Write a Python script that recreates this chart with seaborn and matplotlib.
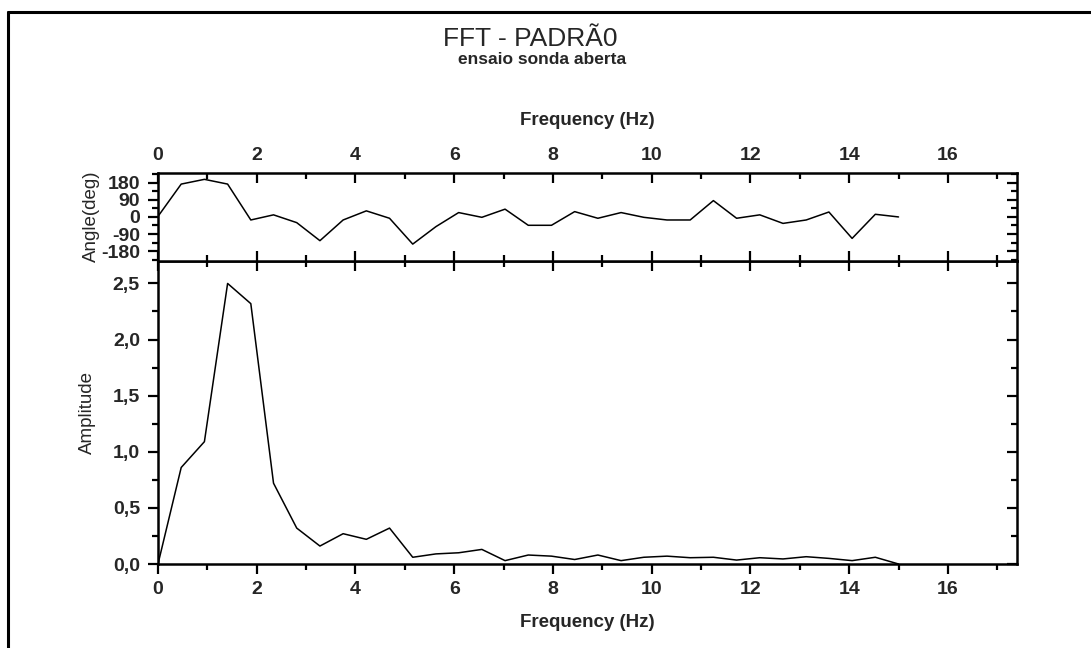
import matplotlib
matplotlib.use("Agg")
import matplotlib.pyplot as plt
import seaborn as sns
import pandas as pd
from matplotlib.ticker import MultipleLocator, FuncFormatter
from matplotlib.lines import Line2D

freq = [0.0, 0.47, 0.94, 1.41, 1.88, 2.34, 2.81, 3.28, 3.75, 4.22, 4.69,
        5.16, 5.63, 6.09, 6.56, 7.03, 7.5, 7.97, 8.44, 8.91, 9.38, 9.84,
        10.31, 10.78, 11.25, 11.72, 12.19, 12.66, 13.13, 13.59, 14.06,
        14.53, 15.0]
amplitude = [0.0, 0.86, 1.09, 2.50, 2.32, 0.72, 0.32, 0.16, 0.27, 0.22, 0.32,
             0.06, 0.09, 0.10, 0.13, 0.03, 0.08, 0.07, 0.04, 0.08, 0.03, 0.06,
             0.07, 0.056, 0.06, 0.035, 0.056, 0.045, 0.065, 0.05, 0.03,
             0.06, 0.0]
angle = [3, 173, 198, 173, -16, 11, -30, -125, -16, 32, -7,
         -143, -51, 23, -2, 41, -44, -44, 28, -7, 23, -2,
         -16, -16, 86, -7, 11, -34, -16, 26, -113,
         14, 0]

title = "FFT - PADRÃ0"
subtitle = "ensaio sonda aberta"
xlabel = "Frequency (Hz)"

df = pd.DataFrame({"freq": freq, "amp": amplitude, "ang": angle})

sns.set_style("ticks")
plt.rcParams["font.family"] = ["Liberation Sans", "DejaVu Sans"]
plt.rcParams["axes.unicode_minus"] = False

W, H = 1091, 648
fig = plt.figure(figsize=(W / 100, H / 100), dpi=100)

left = 158 / W
right = 1017 / W
ax_b = fig.add_axes([left, 1 - 564 / H, right - left, (564 - 261) / H])
ax_t = fig.add_axes([left, 1 - 261 / H, right - left, (261 - 172.5) / H])

sns.lineplot(data=df, x="freq", y="amp", ax=ax_b, color="black", linewidth=1.1)
sns.lineplot(data=df, x="freq", y="ang", ax=ax_t, color="black", linewidth=1.1)

comma = FuncFormatter(lambda v, p: f"{v:.1f}".replace(".", ","))

TS = 14
LS = 13.5

for ax in (ax_b, ax_t):
    ax.set_xlim(0, 17.4)
    ax.xaxis.set_major_locator(MultipleLocator(2))
    ax.xaxis.set_minor_locator(MultipleLocator(1))
    for s in ax.spines.values():
        s.set_visible(True)
        s.set_linewidth(1.8)
        s.set_color("black")
    ax.set_facecolor("white")

# bottom panel
ax_b.set_ylim(0, 2.7)
ax_b.yaxis.set_major_locator(MultipleLocator(0.5))
ax_b.yaxis.set_minor_locator(MultipleLocator(0.25))
ax_b.yaxis.set_major_formatter(comma)
ax_b.tick_params(axis="both", which="both", bottom=True, top=True, left=True,
                 right=True, labelbottom=True, labeltop=False, labelleft=True,
                 labelright=False, color="black", width=1.6)
ax_b.tick_params(axis="x", which="major", direction="out", length=7, labelsize=TS, pad=5)
ax_b.tick_params(axis="x", which="minor", direction="out", length=4)
ax_b.tick_params(axis="y", which="major", direction="out", length=7, labelsize=TS, pad=6)
ax_b.tick_params(axis="y", which="minor", direction="out", length=4)
for t in ax_b.xaxis.get_major_ticks() + ax_b.xaxis.get_minor_ticks():
    t.tick2line.set_marker(3)
for t in ax_b.yaxis.get_major_ticks() + ax_b.yaxis.get_minor_ticks():
    t.tick2line.set_marker(0)
ax_b.set_xlabel(xlabel, fontsize=LS, fontweight="bold", labelpad=12)
ax_b.set_ylabel("Amplitude", fontsize=LS, labelpad=12)

# top panel
ax_t.set_ylim(-232, 234)
ax_t.yaxis.set_minor_locator(MultipleLocator(45))
ax_t.set_yticks([-180, -90, 0, 90, 180])
ax_t.tick_params(axis="both", which="both", bottom=True, top=True, left=True,
                 right=True, labelbottom=False, labeltop=True, labelleft=True,
                 labelright=False, color="black", width=1.6)
ax_t.tick_params(axis="x", which="major", direction="in", length=7, labelsize=TS, pad=6)
ax_t.tick_params(axis="x", which="minor", direction="in", length=4)
ax_t.tick_params(axis="y", which="major", direction="out", length=7, labelsize=TS, pad=6)
ax_t.tick_params(axis="y", which="minor", direction="out", length=4)
for t in ax_t.yaxis.get_major_ticks() + ax_t.yaxis.get_minor_ticks():
    t.tick2line.set_marker(0)
for t in ax_t.xaxis.get_major_ticks() + ax_t.xaxis.get_minor_ticks():
    t.tick1line.set_marker(2)
ax_t.xaxis.set_label_position("top")
ax_t.set_xlabel(xlabel, fontsize=LS, fontweight="bold", labelpad=16)
ax_t.set_ylabel("Angle(deg)", fontsize=LS, labelpad=1)

for ax in (ax_b, ax_t):
    for lab in ax.get_xticklabels() + ax.get_yticklabels():
        lab.set_fontweight("bold")

fig.text(530 / W, 1 - 39 / H, title, ha="center", va="center", fontsize=19)
fig.text(542 / W, 1 - 59 / H, subtitle, ha="center", va="center", fontsize=12.5,
         fontweight="bold")

# outer frame (left and top edges)
fig.add_artist(Line2D([8 / W, 8 / W], [0, 1 - 12 / H], transform=fig.transFigure,
                      color="black", linewidth=2.2))
fig.add_artist(Line2D([8 / W, 1], [1 - 12 / H, 1 - 12 / H], transform=fig.transFigure,
                      color="black", linewidth=2.2))

fig.savefig("out.png", dpi=100, facecolor="white")
